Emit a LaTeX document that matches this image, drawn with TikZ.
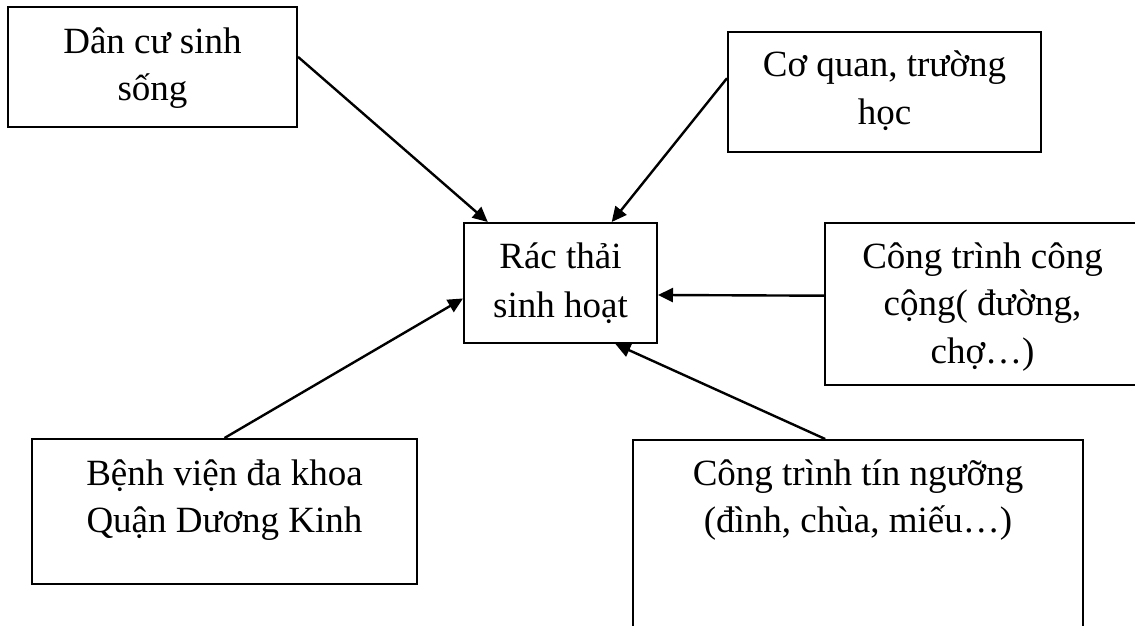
\documentclass[tikz,border=0pt]{standalone}
\usepackage{fontspec}
\setmainfont{Liberation Serif}
\usetikzlibrary{arrows.meta}
\begin{document}
\begin{tikzpicture}[x=1pt,y=-1pt,
  box/.style={draw, line width=2pt, rectangle, inner sep=0pt},
  lbl/.style={anchor=base, inner sep=0pt, font=\fontsize{37}{47}\selectfont},
  arr/.style={line width=2.4pt, -{Triangle[length=15pt,width=14pt]}}]
\useasboundingbox (0,0) rectangle (1135,625);
% boxes
\node[box, minimum width=289pt, minimum height=120pt] (b1) at (152.5,67) {};
\node[box, minimum width=313pt, minimum height=120pt] (b2) at (884.5,92) {};
\node[box, minimum width=193pt, minimum height=120pt] (c) at (560.5,283) {};
\node[box, minimum width=315pt, minimum height=162pt] (b4) at (982.5,304) {};
\node[box, minimum width=385pt, minimum height=145pt] (b5) at (224.5,511.5) {};
\node[box, minimum width=450pt, minimum height=200pt] (b6) at (858,540) {};
% texts
\node[lbl] (t1a) at (152.5,53) {Dân cư sinh};
\node[lbl] (t1b) at (152.5,100) {sống};
\node[lbl] (t2a) at (884.5,76) {Cơ quan, trường};
\node[lbl] (t2b) at (884.5,124) {học};
\node[lbl] (tca) at (560.5,268) {Rác thải};
\node[lbl] (tcb) at (560.5,317) {sinh hoạt};
\node[lbl] (t4a) at (982.5,268) {Công trình công};
\node[lbl] (t4b) at (982.5,315) {cộng( đường,};
\node[lbl] (t4c) at (982.5,363) {chợ…)};
\node[lbl] (t5a) at (224.5,485) {Bệnh viện đa khoa};
\node[lbl] (t5b) at (224.5,532) {Quận Dương Kinh};
\node[lbl] (t6a) at (858,485) {Công trình tín ngưỡng};
\node[lbl] (t6b) at (858,532) {(đình, chùa, miếu…)};
% arrows
\draw[arr] (b1.4.7) -- (c.140.8);
\draw[arr] (b2.175.6) -- (c.50.9);
\draw[arr] (b4.177.1) -- (c.-7.7);
\draw[arr] (b5.north) -- (c.-171.8);
\draw[arr] (b6.108.3) -- (c.-48.8);
\end{tikzpicture}
\end{document}
